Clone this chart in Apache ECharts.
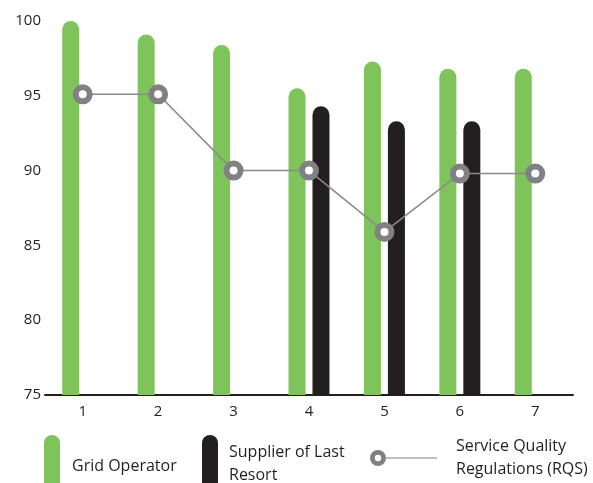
<!DOCTYPE html>
<html>
<head>
<meta charset="utf-8">
<script src="https://cdn.jsdelivr.net/npm/echarts@6/dist/echarts.min.js"></script>
<style>html,body{margin:0;padding:0;background:#fff;}#c{width:593px;height:483px;}</style>
</head>
<body>
<div id="c"></div>
<script>
var categories = ['1', '2', '3', '4', '5', '6', '7'];
var gridOperator = [100, 99.1, 98.4, 95.5, 97.3, 96.8, 96.8];
var supplierLastResort = [null, null, null, 94.3, 93.3, 93.3, null];
var rqs = [95.1, 95.1, 90, 90, 85.9, 89.8, 89.8];
var yTicks = [75, 80, 85, 90, 95, 100];

var GREEN = '#7fc45b', BLACK = '#231f20', GRAY = '#818184', TXT = '#231f20';
var FONT = 'Open Sans';
function pill(h) { return 'path://M0,8 A8,8 0 0,1 16,8 L16,' + h + ' L0,' + h + ' Z'; }
var ringLine = 'path://M0,8 A8,8 0 1,1 16,8 A8,8 0 1,1 0,8 Z M4.8,8 A3.2,3.2 0 1,0 11.2,8 A3.2,3.2 0 1,0 4.8,8 Z M16,7.4 L67,7.4 L67,8.6 L16,8.6 Z';

var chart = echarts.init(document.getElementById('c'));
chart.setOption({
  animation: false,
  grid: { left: 45, right: 20, top: 21, bottom: 88 },
  xAxis: {
    type: 'category', data: categories,
    axisLine: { lineStyle: { color: BLACK, width: 2 } },
    axisTick: { show: false },
    axisLabel: { color: TXT, fontFamily: FONT, fontSize: 15, margin: 9 }
  },
  yAxis: {
    type: 'value', min: yTicks[0], max: yTicks[yTicks.length - 1], interval: 5,
    axisLine: { show: false }, axisTick: { show: false }, splitLine: { show: false },
    axisLabel: { color: TXT, fontFamily: FONT, fontSize: 15, margin: 4 }
  },
  legend: [
    { left: 44, top: 435, padding: 0, itemWidth: 16, itemHeight: 62, selectedMode: false,
      data: [{ name: 'Grid Operator', icon: pill(62) }],
      textStyle: { color: TXT, fontFamily: FONT, fontSize: 16, padding: [0, 0, 0, 7] } },
    { left: 202, top: 435, padding: 0, itemWidth: 16, itemHeight: 58, selectedMode: false,
      data: [{ name: 'Supplier of Last Resort', icon: pill(58) }],
      formatter: function () { return 'Supplier of Last\nResort'; },
      textStyle: { color: TXT, fontFamily: FONT, fontSize: 16, lineHeight: 23, padding: [0, 0, 0, 6] } },
    { left: 370, top: 430, padding: 0, itemWidth: 67, itemHeight: 16, selectedMode: false,
      data: [{ name: 'Service Quality Regulations (RQS)', icon: ringLine, itemStyle: { color: GRAY, borderWidth: 0 } }],
      formatter: function () { return 'Service Quality\nRegulations (RQS)'; },
      textStyle: { color: TXT, fontFamily: FONT, fontSize: 16, lineHeight: 23, padding: [10, 0, 0, 14] } }
  ],
  series: [
    { name: 'Grid Operator', type: 'bar', data: gridOperator, barWidth: 17, barGap: '41%',
      itemStyle: { color: GREEN, borderRadius: [8.5, 8.5, 0, 0] } },
    { name: 'Supplier of Last Resort', type: 'bar', data: supplierLastResort, barWidth: 17,
      itemStyle: { color: BLACK, borderRadius: [8.5, 8.5, 0, 0] } },
    { name: 'Service Quality Regulations (RQS)', type: 'line', data: rqs, z: 5,
      symbol: 'circle', symbolSize: 14,
      lineStyle: { color: '#8a8a8d', width: 1.5 },
      itemStyle: { color: '#fff', borderColor: GRAY, borderWidth: 6 } }
  ]
});
</script>
</body>
</html>
